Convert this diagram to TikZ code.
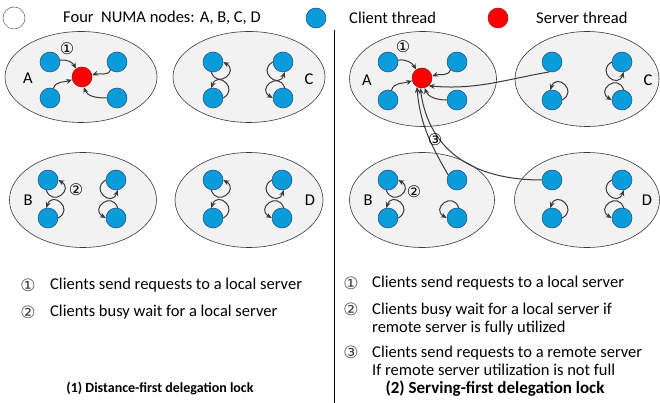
\documentclass[tikz,border=0pt]{standalone}
\usepackage{fontspec}
\setmainfont{Carlito}
\newfontfamily\dejavu{DejaVu Sans}
\usetikzlibrary{shapes.geometric,arrows.meta}
\definecolor{cblue}{HTML}{0A9BDA}
\definecolor{cblueline}{HTML}{1F4E79}
\definecolor{cred}{HTML}{FF0000}
\definecolor{credline}{HTML}{8B1A1A}
\definecolor{numafill}{HTML}{F2F2F2}
\definecolor{lineg}{HTML}{3A3A3A}
\newcommand\lpTL[1]{\draw[arr] (#1.-100) to[out=-70,in=-30,looseness=3] (#1.0);}
\newcommand\lpTR[1]{\draw[arr] (#1.180) to[out=210,in=250,looseness=3] (#1.-80);}
\newcommand\lpBL[1]{\draw[arr] (#1.0) to[out=30,in=70,looseness=3] (#1.100);}
\newcommand\lpBR[1]{\draw[arr] (#1.80) to[out=110,in=150,looseness=3] (#1.180);}
\begin{document}
\begin{tikzpicture}[x=1pt,y=1pt,
  every node/.style={font=\fontsize{16.5}{18}\selectfont},
  client/.style={circle,minimum size=20pt,inner sep=0pt,fill=cblue,draw=cblueline,line width=0.5pt},
  server/.style={circle,minimum size=20pt,inner sep=0pt,fill=cred,draw=credline,line width=0.5pt},
  numa/.style={ellipse,draw=lineg,fill=numafill,line width=0.6pt,inner sep=0pt},
  arr/.style={draw=lineg,line width=1pt,-{Stealth[length=6pt,width=5pt]}},
  circnum/.style={font=\dejavu\fontsize{16}{16}\selectfont,inner sep=0pt},
  listnum/.style={font=\dejavu\fontsize{17}{17}\selectfont,inner sep=0pt,text=black!75},
  lbl/.style={inner sep=0pt},
  item/.style={anchor=west,inner sep=0pt},
  title/.style={font=\fontsize{14}{16}\selectfont\bfseries,inner sep=0pt},
  titlebig/.style={font=\fontsize{17}{19}\selectfont\bfseries,inner sep=0pt}]
\useasboundingbox (0,0) rectangle (660,-403);
\fill[white] (0,0) rectangle (660,-403);

% legend
\node[circle,minimum size=22pt,inner sep=0pt,fill=white,draw=black!55,line width=0.6pt] (lgw) at (14,-18) {};
\node[item] (lgwt) at (63,-18) {Four\ \ NUMA nodes: A, B, C, D};
\node[client] (lgb) at (316,-18) {};
\node[item] (lgbt) at (349,-18) {Client thread};
\node[server] (lgr) at (498,-18) {};
\node[item] (lgrt) at (536,-18) {Server thread};

% divider
\coordinate (divt) at (334,-30);
\coordinate (divb) at (334,-403);
\draw[black,line width=0.9pt] (divt) -- (divb);

% ================= LEFT PANEL =================
\node[numa,minimum width=152pt,minimum height=91pt] (LA) at (81,-77) {};
\node[numa,minimum width=152pt,minimum height=91pt] (LC) at (249,-77) {};
\node[numa,minimum width=147pt,minimum height=95pt] (LB) at (83,-200) {};
\node[numa,minimum width=148pt,minimum height=95pt] (LD) at (249,-200) {};

% A
\node[lbl] (LAl) at (28,-78) {A};
\node[client] (la1) at (50,-62) {};
\node[client] (la2) at (117,-62) {};
\node[client] (la3) at (50,-98) {};
\node[client] (la4) at (117,-98) {};
\node[server] (lar) at (82,-77) {};
\node[circnum] (lan1) at (67,-49) {①};
\draw[arr] (la1.10) to[out=10,in=120] (lar.125);
\draw[arr] (la2.-130) to[out=-110,in=20] (lar.10);
\draw[arr] (la3.70) to[out=75,in=200] (lar.195);
\draw[arr] (la4.180) to[out=180,in=-70] (lar.-80);

% C
\node[lbl] (LCl) at (309,-79) {C};
\node[client] (lc1) at (213,-62) {};
\node[client] (lc2) at (283,-62) {};
\node[client] (lc3) at (213,-98) {};
\node[client] (lc4) at (283,-98) {};
\lpTL{lc1}\lpTR{lc2}\lpBL{lc3}\lpBR{lc4}

% B
\node[lbl] (LBl) at (28,-200) {B};
\node[client] (lb1) at (48,-180) {};
\node[client] (lb2) at (116,-180) {};
\node[client] (lb3) at (48,-218) {};
\node[client] (lb4) at (116,-218) {};
\node[circnum] (lbn2) at (76,-190) {②};
\lpTL{lb1}\lpTR{lb2}\lpBL{lb3}\lpBR{lb4}

% D
\node[lbl] (LDl) at (310,-200) {D};
\node[client] (ld1) at (213,-180) {};
\node[client] (ld2) at (282,-180) {};
\node[client] (ld3) at (213,-218) {};
\node[client] (ld4) at (282,-218) {};
\lpTL{ld1}\lpTR{ld2}\lpBL{ld3}\lpBR{ld4}

% left list
\node[listnum] (ln1) at (28,-285) {①};
\node[item] (lt1) at (50,-285) {Clients send requests to a local server};
\node[listnum] (ln2) at (28,-312) {②};
\node[item] (lt2) at (50,-312) {Clients busy wait for a local server};
\node[title] (ltitle) at (160,-388) {(1) Distance-first delegation lock};

% ================= RIGHT PANEL =================
\node[numa,minimum width=147pt,minimum height=95pt] (RA) at (423,-79) {};
\node[numa,minimum width=144pt,minimum height=95pt] (RC) at (587,-79) {};
\node[numa,minimum width=145pt,minimum height=95pt] (RB) at (422,-200) {};
\node[numa,minimum width=145pt,minimum height=95pt] (RD) at (587,-200) {};

% A
\node[lbl] (RAl) at (367,-80) {A};
\node[client] (ra1) at (388,-62) {};
\node[client] (ra2) at (457,-62) {};
\node[client] (ra3) at (388,-100) {};
\node[client] (ra4) at (457,-100) {};
\node[server] (rar) at (422,-78) {};
\node[circnum] (ran1) at (403,-47) {①};
\draw[arr] (ra1.10) to[out=10,in=120] (rar.125);
\draw[arr] (ra2.-130) to[out=-110,in=20] (rar.10);
\draw[arr] (ra3.70) to[out=75,in=200] (rar.195);
\draw[arr] (ra4.180) to[out=180,in=-70] (rar.-75);

% C
\node[lbl] (RCl) at (648,-80) {C};
\node[client] (rc1) at (552,-62) {};
\node[client] (rc2) at (622,-62) {};
\node[client] (rc3) at (552,-100) {};
\node[client] (rc4) at (622,-100) {};
\lpTR{rc2}\lpBL{rc3}\lpBR{rc4}

% B
\node[lbl] (RBl) at (368,-200) {B};
\node[client] (rb1) at (388,-180) {};
\node[client] (rb2) at (457,-180) {};
\node[client] (rb3) at (388,-218) {};
\node[client] (rb4) at (457,-218) {};
\node[circnum] (rbn2) at (414,-192) {②};
\lpTL{rb1}\lpBL{rb3}\lpBR{rb4}

% D
\node[lbl] (RDl) at (647,-200) {D};
\node[client] (rd1) at (552,-180) {};
\node[client] (rd2) at (622,-180) {};
\node[client] (rd3) at (552,-218) {};
\node[client] (rd4) at (622,-218) {};
\lpTR{rd2}\lpBL{rd3}\lpBR{rd4}

% remote requests
\draw[arr] (rc1.-105) to[out=190,in=-5] (rar.-50);
\draw[arr] (rb2.150) to[out=120,in=-85] (rar.-120);
\draw[arr] (rd1.west) to[out=180,in=-82,looseness=1.1] (rar.-100);
\node[circnum] (rn3) at (435,-140) {③};

% right list
\node[listnum] (rn1) at (351,-283) {①};
\node[item] (rt1) at (372,-283) {Clients send requests to a local server};
\node[listnum] (rn2) at (351,-309) {②};
\node[item] (rt2) at (372,-310) {Clients busy wait for a local server if};
\node[item] (rt2b) at (372,-328) {remote server is fully utilized};
\node[listnum] (rn3b) at (351,-352) {③};
\node[item] (rt3) at (372,-353) {Clients send requests to a remote server};
\node[item] (rt3b) at (372,-370) {If remote server utilization is not full};
\node[titlebig] (rtitle) at (495,-389) {(2) Serving-first delegation lock};
\end{tikzpicture}
\end{document}
